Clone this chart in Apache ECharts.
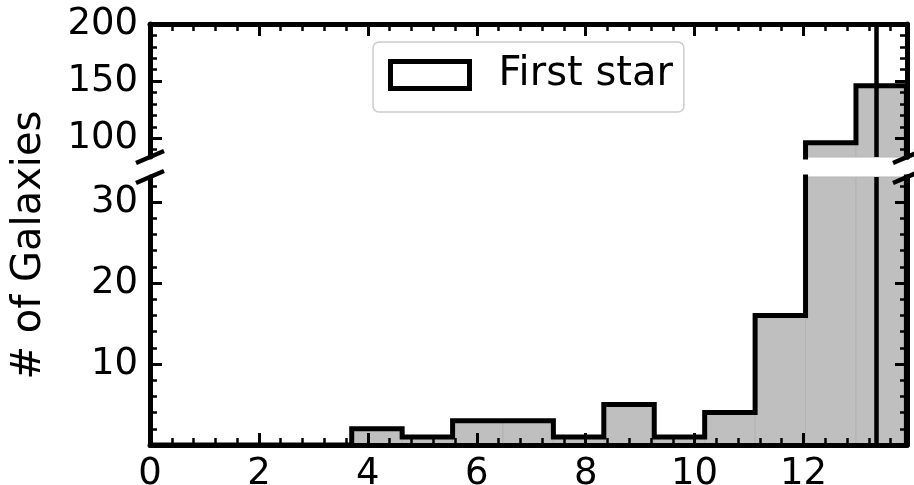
<!DOCTYPE html>
<html>
<head>
<meta charset="utf-8">
<script src="https://cdn.jsdelivr.net/npm/echarts@6/dist/echarts.min.js"></script>
<style>
html,body{margin:0;padding:0;background:#fff;}
#chart{width:914px;height:485px;}
</style>
</head>
<body>
<div id="chart"></div>
<script>
// ---- data ----
const binEdges = [0, 0.926, 1.852, 2.778, 3.704, 4.630, 5.556, 6.481, 7.407, 8.333, 9.259, 10.185, 11.111, 12.037, 12.963, 13.889];
const binCounts = [0, 0, 0, 0, 2, 1, 3, 3, 1, 5, 1, 4, 16, 96, 146];
const firstStarMark = 13.34;
const seriesName = 'First star';
const yTitle = '# of Galaxies';

const xRange = [0, 13.9];
const topRange = [83.6, 200];
const bottomRange = [0, 33.1];

const xMajorTicks = [0, 2, 4, 6, 8, 10, 12];
const xMinorTicks = [0.4, 0.8, 1.2, 1.6, 2.4, 2.8, 3.2, 3.6, 4.4, 4.8, 5.2, 5.6, 6.4, 6.8, 7.2, 7.6, 8.4, 8.8, 9.2, 9.6, 10.4, 10.8, 11.2, 11.6, 12.4, 12.8, 13.2, 13.6];
const topMajorTicks = [100, 150, 200];
const topMinorTicks = [90, 110, 120, 130, 140, 160, 170, 180, 190];
const bottomMajorTicks = [10, 20, 30];
const bottomMinorTicks = [2, 4, 6, 8, 12, 14, 16, 18, 22, 24, 26, 28, 32];

// ---- layout ----
const L = 150, R = 907;
const topTop = 24, topBottom = 157;
const botTop = 177, botBottom = 445;
const FONT = 'DejaVu Sans';

const chart = echarts.init(document.getElementById('chart'), null, {renderer: 'canvas'});

function axisCfg(kind, gridIndex, position, min, max, ticks, len, tw, showLine, showLabel) {
  return {
    type: 'value', gridIndex, position, min, max, z: 10,
    splitLine: {show: false},
    axisLine: {show: showLine, onZero: false, lineStyle: {color: '#000', width: 5}},
    axisTick: {show: true, inside: true, length: len, customValues: ticks, lineStyle: {color: '#000', width: tw}},
    axisLabel: {show: showLabel, customValues: ticks, color: '#000', fontSize: 37, fontFamily: FONT,
      margin: kind === 'x' ? 11 : 12}
  };
}

const xAxes = [
  axisCfg('x', 0, 'top', xRange[0], xRange[1], xMajorTicks, 12, 3, true, false),
  axisCfg('x', 0, 'top', xRange[0], xRange[1], xMinorTicks, 7, 2.5, false, false),
  axisCfg('x', 1, 'bottom', xRange[0], xRange[1], xMajorTicks, 12, 3, true, true),
  axisCfg('x', 1, 'bottom', xRange[0], xRange[1], xMinorTicks, 7, 2.5, false, false)
];
const yAxes = [
  axisCfg('y', 0, 'left', topRange[0], topRange[1], topMajorTicks, 12, 3, true, true),
  axisCfg('y', 0, 'left', topRange[0], topRange[1], topMinorTicks, 7, 2.5, false, false),
  axisCfg('y', 0, 'right', topRange[0], topRange[1], topMajorTicks, 12, 3, true, false),
  axisCfg('y', 0, 'right', topRange[0], topRange[1], topMinorTicks, 7, 2.5, false, false),
  axisCfg('y', 1, 'left', bottomRange[0], bottomRange[1], bottomMajorTicks, 12, 3, true, true),
  axisCfg('y', 1, 'left', bottomRange[0], bottomRange[1], bottomMinorTicks, 7, 2.5, false, false),
  axisCfg('y', 1, 'right', bottomRange[0], bottomRange[1], bottomMajorTicks, 12, 3, true, false),
  axisCfg('y', 1, 'right', bottomRange[0], bottomRange[1], bottomMinorTicks, 7, 2.5, false, false)
];

const barData = binCounts.map((c, i) => [binEdges[i], binEdges[i + 1], c]);
const outline = binCounts.map((c, i) => [binEdges[i], c]);
outline.push([binEdges[binEdges.length - 1], binCounts[binCounts.length - 1]]);
outline.push([binEdges[binEdges.length - 1], 0]);

function renderBar(params, api) {
  const p0 = api.coord([api.value(0), api.value(2)]);
  const p1 = api.coord([api.value(1), 0]);
  const cs = params.coordSys;
  const r = echarts.graphic.clipRectByRect(
    {x: p0[0], y: p0[1], width: p1[0] - p0[0], height: p1[1] - p0[1]},
    {x: cs.x, y: cs.y, width: cs.width, height: cs.height});
  if (!r || r.height <= 0) return null;
  return {type: 'rect', shape: r, style: {fill: '#bfbfbf', stroke: '#b3b3b3', lineWidth: 1}};
}

const series = [];
[[0, 0, topRange], [2, 4, bottomRange]].forEach(([xi, yi, rng]) => {
  series.push({
    type: 'custom', name: 'fill', xAxisIndex: xi, yAxisIndex: yi, data: barData,
    encode: {x: [0, 1], y: 2}, renderItem: renderBar, silent: true, z: 1
  });
  series.push({
    type: 'line', name: seriesName, xAxisIndex: xi, yAxisIndex: yi, data: outline,
    step: 'end', symbol: 'none', clip: true, silent: true, z: 3,
    lineStyle: {color: '#000', width: 5, join: 'miter'}, itemStyle: {color: '#000'}
  });
  series.push({
    type: 'line', name: 'mark', xAxisIndex: xi, yAxisIndex: yi,
    data: [[firstStarMark, rng[0]], [firstStarMark, rng[1]]],
    symbol: 'none', clip: true, silent: true, z: 4,
    lineStyle: {color: '#000', width: 4.5}
  });
});

function brk(cx, cy) {
  return {type: 'line', z: 100, shape: {x1: cx - 14, y1: cy + 6, x2: cx + 14, y2: cy - 6},
    style: {stroke: '#000', lineWidth: 4.5}};
}

chart.setOption({
  animation: false,
  backgroundColor: '#fff',
  grid: [
    {left: L, right: 914 - R, top: topTop, height: topBottom - topTop, containLabel: false, outerBoundsMode: 'none'},
    {left: L, right: 914 - R, top: botTop, height: botBottom - botTop, containLabel: false, outerBoundsMode: 'none'}
  ],
  xAxis: xAxes,
  yAxis: yAxes,
  legend: {
    data: [{name: seriesName, icon: 'rect',
      itemStyle: {color: '#fff', borderColor: '#000', borderWidth: 5}}],
    left: 373, top: 42,
    padding: [13, 11, 17, 15],
    itemWidth: 79, itemHeight: 27,
    backgroundColor: '#fff', borderColor: '#cccccc', borderWidth: 1.5, borderRadius: 6,
    textStyle: {fontSize: 40, fontFamily: FONT, color: '#000', padding: [0, 0, 0, 24], lineHeight: 40},
    selectedMode: false
  },
  graphic: [
    brk(L, topBottom), brk(L, botTop), brk(R, topBottom), brk(R, botTop),
    {type: 'text', x: 30, y: 245, rotation: Math.PI / 2, z: 100,
      style: {text: yTitle, font: '40px "' + FONT + '"', fill: '#000', textAlign: 'center', textVerticalAlign: 'middle'}}
  ],
  series
});
</script>
</body>
</html>
